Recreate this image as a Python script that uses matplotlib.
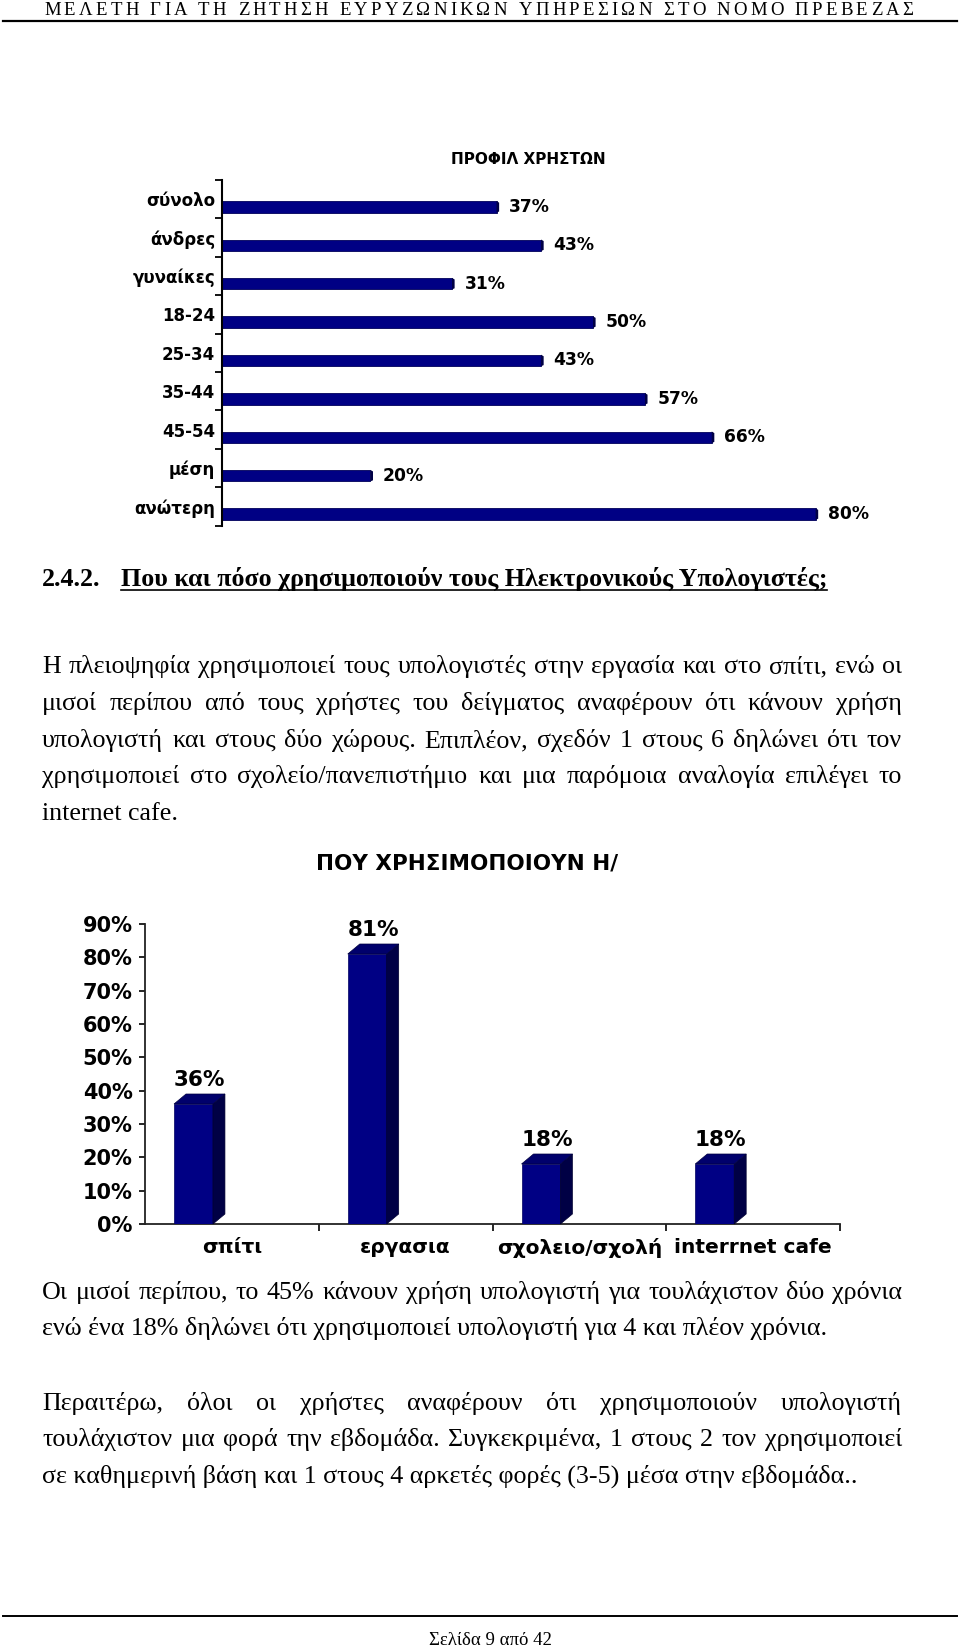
import matplotlib
matplotlib.use('Agg')
import matplotlib.pyplot as plt
import numpy as np
from matplotlib.patches import Polygon
from matplotlib.lines import Line2D
from matplotlib.font_manager import FontProperties
from matplotlib.ticker import FixedLocator, FuncFormatter

# ---------------- data ----------------
header_text = "ΜΕΛΕΤΗ ΓΙΑ ΤΗ ΖΗΤΗΣΗ ΕΥΡΥΖΩΝΙΚΩΝ ΥΠΗΡΕΣΙΩΝ ΣΤΟ ΝΟΜΟ ΠΡΕΒΕΖΑΣ"

profile_title = "ΠΡΟΦΙΛ ΧΡΗΣΤΩΝ"
profile_categories = ["σύνολο", "άνδρες", "γυναίκες", "18-24", "25-34",
                      "35-44", "45-54", "μέση", "ανώτερη"]
profile_values = [37, 43, 31, 50, 43, 57, 66, 20, 80]

section_number = "2.4.2."
section_title = "Που και πόσο χρησιμοποιούν τους Ηλεκτρονικούς Υπολογιστές;"

para1 = ["Η πλειοψηφία χρησιμοποιεί τους υπολογιστές στην εργασία και στο σπίτι, ενώ οι",
         "μισοί περίπου από τους χρήστες του δείγματος αναφέρουν ότι κάνουν χρήση",
         "υπολογιστή και στους δύο χώρους. Επιπλέον, σχεδόν 1 στους 6 δηλώνει ότι τον",
         "χρησιμοποιεί στο σχολείο/πανεπιστήμιο και μια παρόμοια αναλογία επιλέγει το",
         "internet cafe."]

usage_title = "ΠΟΥ ΧΡΗΣΙΜΟΠΟΙΟΥΝ Η/"
usage_categories = ["σπίτι", "εργασια", "σχολειο/σχολή", "interrnet cafe"]
usage_values = [36, 81, 18, 18]
usage_ticks = [0, 10, 20, 30, 40, 50, 60, 70, 80, 90]

para2 = ["Οι μισοί περίπου, το 45% κάνουν χρήση υπολογιστή για τουλάχιστον δύο χρόνια",
         "ενώ ένα 18% δηλώνει ότι χρησιμοποιεί υπολογιστή για 4 και πλέον χρόνια."]
para3 = ["Περαιτέρω, όλοι οι χρήστες αναφέρουν ότι χρησιμοποιούν υπολογιστή",
         "τουλάχιστον μια φορά την εβδομάδα. Συγκεκριμένα, 1 στους 2 τον χρησιμοποιεί",
         "σε καθημερινή βάση και 1 στους 4 αρκετές φορές (3-5) μέσα στην εβδομάδα.."]

footer_text = "Σελίδα 9 από 42"

# ---------------- setup ----------------
W, H, DPI = 960, 1650, 100
fig = plt.figure(figsize=(W / DPI, H / DPI), dpi=DPI)
fig.patch.set_facecolor('white')
renderer = fig.canvas.get_renderer()

SERIF = 'Liberation Serif'
SANS = 'DejaVu Sans'
NAVY = '#000084'
NAVY_TOP = '#00006c'
NAVY_SIDE = '#000045'


def fxy(x, y):
    return x / W, 1 - y / H


def add_axes_px(l, t, r, b):
    return fig.add_axes([l / W, 1 - b / H, (r - l) / W, (b - t) / H])


def text_width(s, prop):
    t = fig.text(0, 0, s, fontproperties=prop)
    w = t.get_window_extent(renderer).width
    t.remove()
    return w


def fit_size(s, family, weight, target):
    p = FontProperties(family=family, weight=weight, size=20)
    return 20 * target / text_width(s, p)


def put(x, y, s, prop, ha='left', va='baseline', color='black'):
    X, Y = fxy(x, y)
    return fig.text(X, Y, s, fontproperties=prop, ha=ha, va=va, color=color)


def draw_line(s, y, x0, x1, prop, justify):
    if not justify:
        put(x0, y, s, prop)
        return
    words = s.split(' ')
    ws = [text_width(w, prop) for w in words]
    gap = (x1 - x0 - sum(ws)) / (len(words) - 1)
    x = x0
    for w, wd in zip(words, ws):
        put(x, y, w, prop)
        x += wd + gap


# ---------------- header ----------------
hprop = FontProperties(family=SERIF, size=13.5)
base = text_width('HH', hprop)
cw = [text_width('H' + c + 'H', hprop) - base for c in header_text]
ls = (913 - 44 - sum(cw)) / (len(header_text) - 1)
x = 44
for c, w in zip(header_text, cw):
    put(x, 15, c, hprop)
    x += w + ls
fig.add_artist(Line2D([3 / W, 957 / W], [1 - 21 / H, 1 - 21 / H], color='black', lw=1.6))

# ---------------- chart 1: profile ----------------
k = 7.42  # px per percent
ax1 = add_axes_px(222, 180, 222 + 90 * k, 525.6)
ypos = np.arange(len(profile_values)) + 0.7
bh = 0.3
ax1.barh(ypos, profile_values, height=bh, color=NAVY, edgecolor='#00005a', lw=0.6)
cap = 0.35
for yv, v in zip(ypos, profile_values):
    ax1.add_patch(Polygon([(v, yv - bh / 2), (v + cap, yv - bh / 2 + 0.04),
                           (v + cap, yv + bh / 2 - 0.03), (v, yv + bh / 2)],
                          closed=True, color=NAVY_SIDE, lw=0))
    ax1.annotate(f"{v}%", (v, yv), xytext=(9, 0), textcoords='offset points',
                 ha='left', va='center', fontsize=12.3, fontweight='bold', family=SANS)
ax1.set_xlim(0, 90)
ax1.set_ylim(len(profile_values), 0)
ax1.set_xticks([])
ax1.yaxis.set_major_locator(FixedLocator(np.arange(len(profile_values)) + 0.5))
ax1.set_yticklabels(profile_categories, fontsize=12, fontweight='bold', family=SANS)
ax1.yaxis.set_minor_locator(FixedLocator(np.arange(len(profile_values) + 1)))
ax1.tick_params(axis='y', which='major', length=0, pad=5)
ax1.tick_params(axis='y', which='minor', length=5, width=1.3, direction='out')
for sp in ['top', 'right', 'bottom']:
    ax1.spines[sp].set_visible(False)
ax1.spines['left'].set_linewidth(1.5)
ax1.patch.set_alpha(0)
put(528, 160, profile_title, FontProperties(family=SANS, weight='bold', size=11), ha='center', va='center')

# ---------------- section heading ----------------
hs = fit_size(section_title, SERIF, 'bold', 827 - 121)
hb = FontProperties(family=SERIF, weight='bold', size=hs)
put(42, 586, section_number, hb)
put(121, 586, section_title, hb)
fig.add_artist(Line2D([121 / W, 827 / W], [1 - 590 / H, 1 - 590 / H], color='black', lw=1.2))

# ---------------- body text ----------------
bs1 = fit_size(para2[1], SERIF, 'normal', 825 - 42)
bs2 = fit_size(para3[2], SERIF, 'normal', 855 - 42)
bprop = FontProperties(family=SERIF, size=(bs1 + bs2) / 2)
X0, X1 = 42, 902
for i, (s, y) in enumerate(zip(para1, [673, 710, 747, 783, 820])):
    draw_line(s, y, X0, X1, bprop, i < len(para1) - 1)
for i, (s, y) in enumerate(zip(para2, [1299, 1335])):
    draw_line(s, y, X0, X1, bprop, i < len(para2) - 1)
for i, (s, y) in enumerate(zip(para3, [1410, 1446, 1483])):
    draw_line(s, y, X0, X1, bprop, i < len(para3) - 1)

# ---------------- chart 2: usage ----------------
ax2 = add_axes_px(145, 924, 840, 1224)
n = len(usage_values)
ax2.set_xlim(0, n)
ax2.set_ylim(0, 90)
bw = 0.224
xc = np.arange(n) + 0.5 - 0.221
dx = 12 * n / 695.0
dy = 10 * 90 / 300.0
ax2.bar(xc, usage_values, width=bw, color=NAVY, edgecolor='#000060', lw=0.5, zorder=3)
for x, v in zip(xc, usage_values):
    xl, xr = x - bw / 2, x + bw / 2
    ax2.add_patch(Polygon([(xr, 0), (xr + dx, dy), (xr + dx, v + dy), (xr, v)], closed=True,
                          facecolor=NAVY_SIDE, edgecolor='#000030', lw=0.5, zorder=3, clip_on=False))
    ax2.add_patch(Polygon([(xl, v), (xl + dx, v + dy), (xr + dx, v + dy), (xr, v)], closed=True,
                          facecolor=NAVY_TOP, edgecolor='#000040', lw=0.5, zorder=3, clip_on=False))
    ax2.annotate(f"{v}%", (x + dx / 2, v), xytext=(0, 17), textcoords='offset points',
                 ha='center', va='center', fontsize=15.5, fontweight='bold', family=SANS)
ax2.yaxis.set_major_locator(FixedLocator(usage_ticks))
ax2.yaxis.set_major_formatter(FuncFormatter(lambda v, p: f"{int(round(v))}%"))
ax2.tick_params(axis='y', which='major', length=4, width=1.2, pad=5, labelsize=15)
ax2.xaxis.set_major_locator(FixedLocator(np.arange(n) + 0.5))
ax2.set_xticklabels(usage_categories, fontsize=14.5, fontweight='bold', family=SANS)
ax2.xaxis.set_minor_locator(FixedLocator(np.arange(1, n + 1)))
ax2.tick_params(axis='x', which='major', length=0, pad=10)
ax2.tick_params(axis='x', which='minor', length=5, width=1.2, direction='out')
for lab in ax2.get_yticklabels():
    lab.set_fontweight('bold')
    lab.set_family(SANS)
for sp in ['top', 'right']:
    ax2.spines[sp].set_visible(False)
ax2.spines['left'].set_linewidth(1.3)
ax2.spines['bottom'].set_linewidth(1.3)
ax2.spines['left'].set_color('#222222')
ax2.spines['bottom'].set_color('#222222')
ax2.patch.set_alpha(0)
put(467, 863, usage_title, FontProperties(family=SANS, weight='bold', size=15.5), ha='center', va='center')

# ---------------- footer ----------------
fig.add_artist(Line2D([3 / W, 957 / W], [1 - 1616 / H, 1 - 1616 / H], color='black', lw=1.4))
put(490, 1645, footer_text, FontProperties(family=SERIF, size=13.5), ha='center')

fig.savefig('out.png', dpi=DPI, facecolor='white')
